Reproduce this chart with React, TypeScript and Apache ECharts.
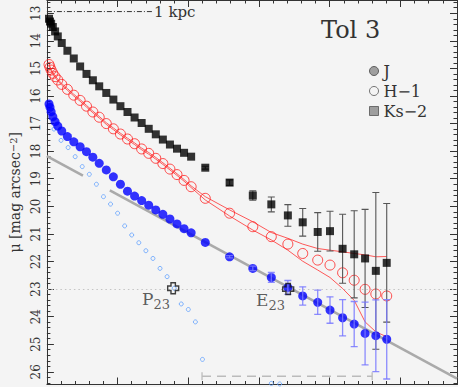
import React, { useEffect, useRef } from 'react';
import * as echarts from 'echarts';

// radii (arcsec) of the J, H, Ks profiles
const radii = [0.15, 0.22, 0.3, 0.42, 0.58, 0.77, 1.05, 1.45, 1.9, 2.35, 2.8, 3.25, 3.7, 4.2, 4.7, 5.2, 5.7, 6.2, 6.7, 7.2, 7.7, 8.2, 8.7, 9.2, 9.7, 10.2, 11.2, 12.92, 14.56, 15.87, 17.04, 18.09, 19.15, 20.02, 20.91, 21.73, 22.5, 23.26, 24.03];
const jMag = [16.29, 16.41, 16.57, 16.75, 16.93, 17.09, 17.27, 17.47, 17.66, 17.84, 18.02, 18.22, 18.44, 18.68, 18.93, 19.2, 19.45, 19.63, 19.79, 19.96, 20.13, 20.29, 20.46, 20.64, 20.81, 20.96, 21.31, 21.83, 22.25, 22.58, 22.94, 23.25, 23.48, 23.76, 24.04, 24.27, 24.61, 24.69, 24.82];
const jErr = [0, 0, 0, 0, 0, 0, 0, 0, 0, 0, 0, 0, 0, 0, 0, 0, 0, 0, 0, 0, 0, 0, 0, 0, 0, 0, 0, 0.04, 0.08, 0.18, 0.25, 0.33, 0.44, 0.48, 0.66, 0.82, 1.14, 1.3, 1.44];
const hMag = [14.86, 14.96, 15.06, 15.18, 15.3, 15.42, 15.58, 15.76, 15.97, 16.16, 16.37, 16.58, 16.77, 17.0, 17.19, 17.38, 17.56, 17.73, 17.92, 18.08, 18.26, 18.45, 18.65, 18.85, 19.06, 19.29, 19.71, 20.25, 20.74, 21.1, 21.37, 21.71, 21.95, 22.13, 22.41, 22.68, 23.01, 23.18, 23.25];
const hErrUp = [0.03, 0.03, 0.03, 0.03, 0.03, 0.03, 0.03, 0.03, 0.03, 0.03, 0.03, 0.03, 0.03, 0.03, 0.03, 0.03, 0.03, 0.03, 0.03, 0.03, 0.03, 0.03, 0.03, 0.03, 0.03, 0.03, 0.06, 0.12, 0.18, 0.15, 0.21, 0.34, 0.42, 0.54, 0.76, 0.97, 1.25, 1.35, 1.43];
const hErrDown = [0.03, 0.03, 0.03, 0.03, 0.03, 0.03, 0.03, 0.03, 0.03, 0.03, 0.03, 0.03, 0.03, 0.03, 0.03, 0.03, 0.03, 0.03, 0.03, 0.03, 0.03, 0.03, 0.03, 0.03, 0.03, 0.03, 0.06, 0.1, 0.12, 0.12, 0.22, 0.28, 0.36, 0.45, 0.57, 0.73, 1.18, 1.37, 1.48];
const ksMag = [13.2, 13.3, 13.38, 13.5, 13.66, 13.84, 14.08, 14.36, 14.64, 14.93, 15.2, 15.43, 15.65, 15.89, 16.13, 16.37, 16.58, 16.78, 16.98, 17.19, 17.39, 17.58, 17.76, 17.91, 18.06, 18.2, 18.6, 19.14, 19.61, 19.93, 20.33, 20.58, 20.93, 20.9, 21.54, 21.74, 21.89, 22.34, 22.05];
const ksErr = [0, 0, 0, 0, 0, 0, 0, 0, 0, 0, 0, 0, 0, 0, 0, 0, 0, 0, 0, 0, 0, 0, 0, 0, 0, 0, 0.05, 0.1, 0.17, 0.27, 0.39, 0.5, 0.7, 0.72, 1.25, 1.58, 1.78, 2.84, 2.15];

// underlying component, small light-blue circles
const pRadii = [0.5, 1, 1.5, 2, 2.5, 3, 3.5, 4, 4.5, 5, 5.5, 6, 6.5, 7, 7.5, 8, 8.5, 9, 9.5, 10, 10.5, 11, 15.87, 16.46];
const pMag = [17.2, 17.61, 17.87, 18.2, 18.56, 18.84, 19.2, 19.65, 19.92, 20.25, 20.71, 21.04, 21.32, 21.61, 21.89, 22.25, 22.55, 22.97, 23.54, 23.74, 24.19, 25.55, 26.42, 26.44];

// exponential fit (two drawn segments)
const fitX1 = [0, 2.55];
const fitMag1 = [18.18, 18.89];
const fitX2 = [4.45, 29];
const fitMag2 = [19.42, 26.25];

// P23 / E23 markers
const crossNames = ['P', 'E'];
const crossR = [8.93, 17.06];
const crossMag = [22.97, 23.0];

// fitting range bar and 1 kpc scale bar
const rangeX = [10.97, 23.0];
const rangeMag = 26.16;
const scaleX = [0, 7.44];
const scaleMag = 12.94;
const isophote = 23;

const yTicks = [13, 14, 15, 16, 17, 18, 19, 20, 21, 22, 23, 24, 25, 26];
const xTicks = [0, 5, 10, 15, 20, 25];

const SERIF = 'DejaVu Serif';
const AX = '#333';

function minorValues(a: number, b: number, step: number, skipEvery: number) {
  const out: number[] = [];
  for (let v = a; v <= b + 1e-9; v += step) {
    const r = Math.round(v * 100) / 100;
    if (Math.abs(r / skipEvery - Math.round(r / skipEvery)) > 1e-6) out.push(r);
  }
  return out;
}

function errSeries(xs: number[], ys: number[], es: number[], color: string, width: number, z: number) {
  return {
    type: 'custom',
    xAxisIndex: 0,
    yAxisIndex: 0,
    clip: true,
    z,
    silent: true,
    data: xs.map((x, i) => [x, ys[i], es[i]]).filter((d) => d[2] > 0),
    renderItem: (_p: any, api: any) => {
      const x = api.value(0);
      const y = api.value(1);
      const e = api.value(2);
      const a = api.coord([x, y - e]);
      const b = api.coord([x, y + e]);
      const c = 3.5;
      const st = { stroke: color, lineWidth: width, fill: 'none' };
      return {
        type: 'group',
        children: [
          { type: 'line', shape: { x1: a[0], y1: a[1], x2: b[0], y2: b[1] }, style: st },
          { type: 'line', shape: { x1: a[0] - c, y1: a[1], x2: a[0] + c, y2: a[1] }, style: st },
          { type: 'line', shape: { x1: b[0] - c, y1: b[1], x2: b[0] + c, y2: b[1] }, style: st },
        ],
      };
    },
  };
}

export default function App() {
  const ref = useRef<HTMLDivElement>(null);
  useEffect(() => {
    if (!ref.current) return;
    const chart = echarts.init(ref.current, null, { renderer: 'svg' });
    const yMin = 12.52;
    const yMax = 26.46;
    const yMinor = minorValues(12.6, 26.4, 0.2, 1);
    const xMinor = minorValues(1, 28, 1, 5);
    const tickStyle = { color: AX, width: 1 };
    const baseX = { type: 'value', min: 0, max: 29, splitLine: { show: false }, axisLabel: { show: false } };
    const baseY = { type: 'value', inverse: true, min: yMin, max: yMax, splitLine: { show: false } };

    const option: any = {
      animation: false,
      backgroundColor: '#f4f4f4',
      title: {
        text: 'Tol 3',
        left: 316,
        top: 13,
        textStyle: { fontFamily: SERIF, fontSize: 24, fontWeight: 'normal', color: '#333' },
      },
      legend: {
        orient: 'vertical',
        left: 369,
        top: 63,
        padding: 0,
        itemGap: 4,
        itemWidth: 9,
        itemHeight: 9,
        selectedMode: false,
        textStyle: { fontFamily: SERIF, fontSize: 16, color: '#333' },
        data: [
          { name: 'J', icon: 'circle', itemStyle: { color: '#8a8a8a', borderColor: '#444', borderWidth: 1 } },
          { name: 'H−1', icon: 'circle', itemStyle: { color: 'rgba(0,0,0,0)', borderColor: '#555', borderWidth: 1 } },
          { name: 'Ks−2', icon: 'rect', itemStyle: { color: '#888', borderColor: '#555', borderWidth: 1 } },
        ],
      },
      grid: { left: 44, right: 1, top: 0, bottom: 2.5, containLabel: false },
      xAxis: [
        { ...baseX, position: 'bottom', axisLine: { show: true, onZero: false, lineStyle: tickStyle }, axisTick: { show: true, inside: true, length: 7, customValues: xTicks, lineStyle: tickStyle } },
        { ...baseX, position: 'bottom', axisLine: { show: false, onZero: false }, axisTick: { show: true, inside: true, length: 3.5, customValues: xMinor, lineStyle: tickStyle } },
        { ...baseX, position: 'top', axisLine: { show: true, onZero: false, lineStyle: tickStyle }, axisTick: { show: true, inside: true, length: 7, customValues: xTicks, lineStyle: tickStyle } },
        { ...baseX, position: 'top', axisLine: { show: false, onZero: false }, axisTick: { show: true, inside: true, length: 3.5, customValues: xMinor, lineStyle: tickStyle } },
      ],
      yAxis: [
        {
          ...baseY,
          position: 'left',
          axisLine: { show: true, onZero: false, lineStyle: tickStyle },
          axisTick: { show: true, inside: true, length: 7, customValues: yTicks, lineStyle: tickStyle },
          axisLabel: { show: true, customValues: yTicks, rotate: 90, margin: 5, fontFamily: SERIF, fontSize: 12, color: '#333' },
          name: '{n|μ [mag arcsec}{s|−2}{n|]}',
          nameLocation: 'middle',
          nameRotate: 90,
          nameGap: 24,
          nameTextStyle: {
            rich: {
              n: { fontFamily: SERIF, fontSize: 14, color: '#333', verticalAlign: 'bottom' },
              s: { fontFamily: SERIF, fontSize: 10, color: '#333', verticalAlign: 'top', padding: [0, 0, 0, 0] },
            },
          },
        },
        { ...baseY, position: 'left', axisLine: { show: false, onZero: false }, axisLabel: { show: false }, axisTick: { show: true, inside: true, length: 3.5, customValues: yMinor, lineStyle: tickStyle } },
        { ...baseY, position: 'right', axisLine: { show: true, onZero: false, lineStyle: tickStyle }, axisLabel: { show: false }, axisTick: { show: true, inside: true, length: 7, customValues: yTicks, lineStyle: tickStyle } },
        { ...baseY, position: 'right', axisLine: { show: false, onZero: false }, axisLabel: { show: false }, axisTick: { show: true, inside: true, length: 3.5, customValues: yMinor, lineStyle: tickStyle } },
      ],
      series: [
        {
          type: 'line',
          name: 'fit1',
          data: fitX1.map((x, i) => [x, fitMag1[i]]),
          symbol: 'none',
          lineStyle: { color: '#aaaaaa', width: 2.6 },
          z: 1,
          markLine: {
            silent: true,
            symbol: ['none', 'none'],
            label: { show: false },
            lineStyle: { color: '#c4c4c4', type: [1.5, 3], width: 1 },
            data: [{ yAxis: isophote }],
          },
        },
        {
          type: 'line',
          name: 'fit2',
          data: fitX2.map((x, i) => [x, fitMag2[i]]),
          symbol: 'none',
          lineStyle: { color: '#aaaaaa', width: 2.6 },
          z: 1,
        },
        {
          type: 'line',
          name: 'range',
          data: rangeX.map((x) => [x, rangeMag]),
          symbol: 'path://M0,0 H1 V10 H0 Z',
          symbolSize: [1.3, 8],
          itemStyle: { color: '#bbbbbb' },
          lineStyle: { color: '#bbbbbb', width: 1.6, type: [9, 6] },
          z: 1,
        },
        {
          type: 'line',
          name: 'scale',
          data: scaleX.map((x) => [x, scaleMag]),
          symbol: 'none',
          lineStyle: { color: '#333', width: 1, type: [5, 2, 1, 2] },
          endLabel: { show: true, formatter: '1 kpc', distance: 2, fontFamily: SERIF, fontSize: 15, color: '#333' },
          z: 2,
        },
        {
          type: 'scatter',
          name: 'P',
          data: pRadii.map((x, i) => [x, pMag[i]]),
          symbol: 'circle',
          symbolSize: 4,
          itemStyle: { color: 'rgba(0,0,0,0)', borderColor: '#5fa0ff', borderWidth: 1 },
          z: 2,
        },
        {
          type: 'line',
          name: 'Hup',
          data: radii.map((x, i) => [x, hMag[i] - hErrUp[i]]),
          symbol: 'none',
          lineStyle: { color: '#ff3030', width: 0.8 },
          z: 3,
        },
        {
          type: 'line',
          name: 'Hlo',
          data: radii.map((x, i) => [x, hMag[i] + hErrDown[i]]),
          symbol: 'none',
          lineStyle: { color: '#ff3030', width: 0.8 },
          z: 3,
        },
        {
          type: 'scatter',
          name: 'H−1',
          data: radii.map((x, i) => [x, hMag[i]]),
          symbol: 'circle',
          symbolSize: 10,
          itemStyle: { color: 'rgba(0,0,0,0)', borderColor: '#ff2020', borderWidth: 1 },
          z: 4,
        },
        errSeries(radii, ksMag, ksErr, '#555555', 1.1, 5),
        {
          type: 'scatter',
          name: 'Ks−2',
          data: radii.map((x, i) => [x, ksMag[i]]),
          symbol: 'rect',
          symbolSize: 8,
          itemStyle: { color: '#000000' },
          z: 6,
        },
        {
          type: 'scatter',
          name: 'J',
          data: radii.map((x, i) => [x, jMag[i]]),
          symbol: 'circle',
          symbolSize: 9,
          itemStyle: { color: '#0000ff' },
          z: 7,
        },
        errSeries(radii, jMag, jErr, 'rgba(120,120,255,0.85)', 1.3, 8),
        {
          type: 'scatter',
          name: 'cross',
          data: crossR.map((x, i) => ({ value: [x, crossMag[i]], name: crossNames[i] })),
          symbol: 'path://M3,0 H7 V3 H10 V7 H7 V10 H3 V7 H0 V3 H3 Z',
          symbolSize: 11,
          itemStyle: { color: 'rgba(0,0,0,0)', borderColor: '#111', borderWidth: 1.4 },
          z: 9,
          label: {
            show: true,
            position: 'left',
            distance: 0,
            offset: [3, 11],
            formatter: (p: any) => `{a|${p.name}}{s|23}`,
            rich: {
              a: { fontFamily: SERIF, fontSize: 17, color: '#333', verticalAlign: 'top', lineHeight: 17 },
              s: { fontFamily: SERIF, fontSize: 13, color: '#333', verticalAlign: 'top', lineHeight: 13, padding: [7, 0, 0, 0] },
            },
          },
        },
      ],
    };
    chart.setOption(option);
    return () => chart.dispose();
  }, []);
  return <div ref={ref} style={{ position: 'fixed', left: 0, top: 0, width: 458, height: 387 }} />;
}
